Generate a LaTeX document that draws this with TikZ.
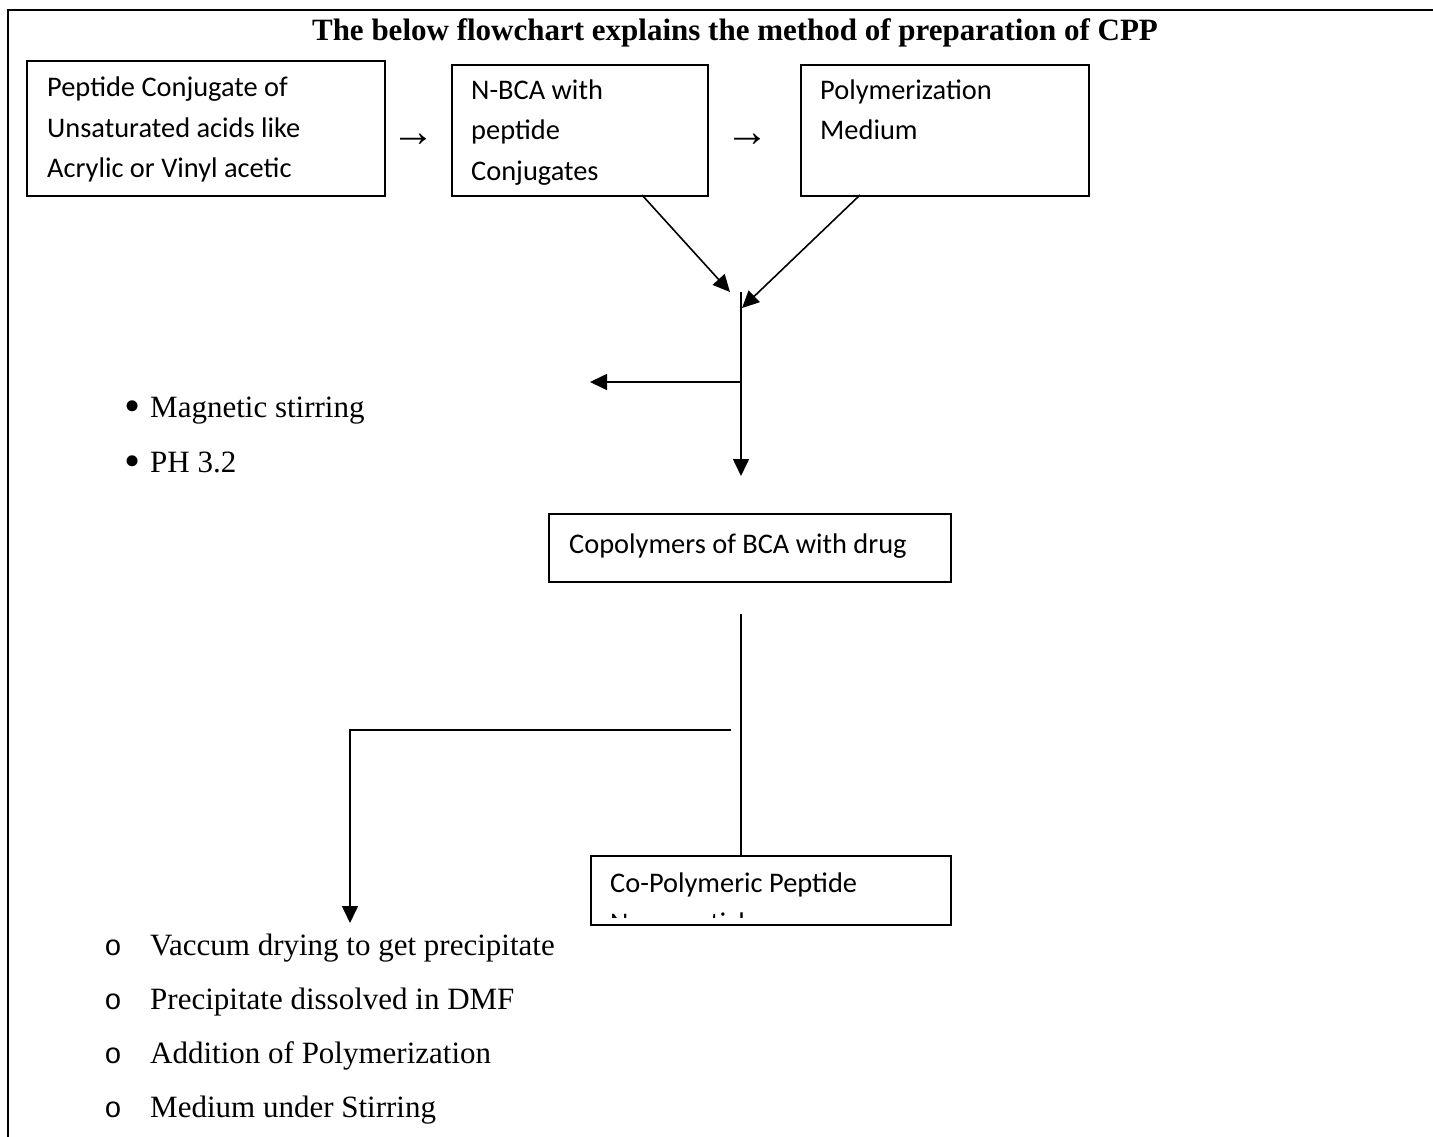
\documentclass[tikz,border=0pt]{standalone}
\usepackage{fontspec}
\setmainfont{Liberation Serif}
\newfontfamily\boxfont{Carlito}
\newfontfamily\bulfont{Liberation Mono}
\usetikzlibrary{arrows.meta}
\begin{document}
\begin{tikzpicture}[x=1pt,y=-1pt,
  box/.style={draw, line width=1.6pt, inner sep=0pt, anchor=north west},
  boxtxt/.style={anchor=base west, inner sep=0pt, font=\boxfont\fontsize{28.4}{34}\selectfont},
  sertxt/.style={anchor=base west, inner sep=0pt, font=\fontsize{31}{37}\selectfont},
  arrtxt/.style={anchor=center, inner sep=0pt, font=\fontsize{44}{48}\selectfont},
  titletxt/.style={anchor=base, inner sep=0pt, font=\bfseries\fontsize{31}{37}\selectfont},
  bultxt/.style={anchor=base, inner sep=0pt, font=\fontsize{46}{50}\selectfont},
  obultxt/.style={anchor=base, inner sep=0pt, font=\bulfont\fontsize{29}{34}\selectfont},
  conn/.style={line width=1.6pt},
  arr/.style={conn, -{Triangle[length=17pt,width=16pt]}},
  frame/.style={line width=1.8pt},
]
\useasboundingbox (0,0) rectangle (1433,1137);

% outer frame
\coordinate (frTR) at (1433,10);
\coordinate (frTL) at (8,10);
\coordinate (frBL) at (8,1137);
\draw[frame] (frTR) -- (frTL) -- (frBL);

% title
\node[titletxt] (title) at (735,41) {The below flowchart explains the method of preparation of CPP};

% top boxes
\node[box, minimum width=358pt, minimum height=135pt] (boxA) at (26,60) {};
\node[boxtxt] (a1) at (47,97) {Peptide Conjugate of};
\node[boxtxt] (a2) at (47,138) {Unsaturated acids like};
\node[boxtxt] (a3) at (47,178) {Acrylic or Vinyl acetic};

\node[arrtxt] (r1) at (413,140) {→};

\node[box, minimum width=256pt, minimum height=131pt] (boxB) at (451,64) {};
\node[boxtxt] (b1) at (471,100) {N-BCA with};
\node[boxtxt] (b2) at (471,140) {peptide};
\node[boxtxt] (b3) at (471,181) {Conjugates};

\node[arrtxt] (r2) at (747,140) {→};

\node[box, minimum width=288pt, minimum height=131pt] (boxC) at (800,64) {};
\node[boxtxt] (c1) at (820,100) {Polymerization};
\node[boxtxt] (c2) at (820,140) {Medium};

% converging arrows
\coordinate (bOut) at (642,195);
\coordinate (cOut) at (860,195);
\coordinate (tip1) at (730,292);
\coordinate (tip2) at (742,308);
\coordinate (vTop) at (741,292);
\coordinate (vMid) at (741,382);
\coordinate (vBot) at (741,476);
\coordinate (hTip) at (590,382);
\draw[arr] (bOut) -- (tip1);
\draw[arr] (cOut) -- (tip2);
\draw[arr] (vTop) -- (vBot);
\draw[arr] (vMid) -- (hTip);

% bullet list 1
\node[bultxt] (bu1) at (133,421) {•};
\node[sertxt] (m1) at (150,417) {Magnetic stirring};
\node[bultxt] (bu2) at (133,476) {•};
\node[sertxt] (m2) at (150,472) {PH 3.2};

% box D
\node[box, minimum width=402pt, minimum height=68pt] (boxD) at (548,513) {};
\node[boxtxt] (d1) at (569,553) {Copolymers of BCA with drug};

% box E
\node[box, minimum width=360pt, minimum height=69pt] (boxE) at (590,855) {};
\node[boxtxt] (e1) at (610,892) {Co-Polymeric Peptide};
\begin{scope}
  \clip (592,857) rectangle (948,917);
  \node[boxtxt] (e2) at (610,932) {Nanoparticles};
\end{scope}

% connectors lower part
\coordinate (dTop) at (741,614);
\draw[conn] (dTop) -- (boxE.north -| dTop);
\coordinate (hR) at (731,730);
\coordinate (hL) at (350,730);
\coordinate (hDown) at (350,923);
\draw[arr] (hR) -- (hL) -- (hDown);

% bullet list 2
\node[obultxt] (o1) at (113,955) {o};
\node[sertxt] (l1) at (150,955) {Vaccum drying to get precipitate};
\node[obultxt] (o2) at (113,1009) {o};
\node[sertxt] (l2) at (150,1009) {Precipitate dissolved in DMF};
\node[obultxt] (o3) at (113,1063) {o};
\node[sertxt] (l3) at (150,1063) {Addition of Polymerization};
\node[obultxt] (o4) at (113,1117) {o};
\node[sertxt] (l4) at (150,1117) {Medium under Stirring};
\end{tikzpicture}
\end{document}
